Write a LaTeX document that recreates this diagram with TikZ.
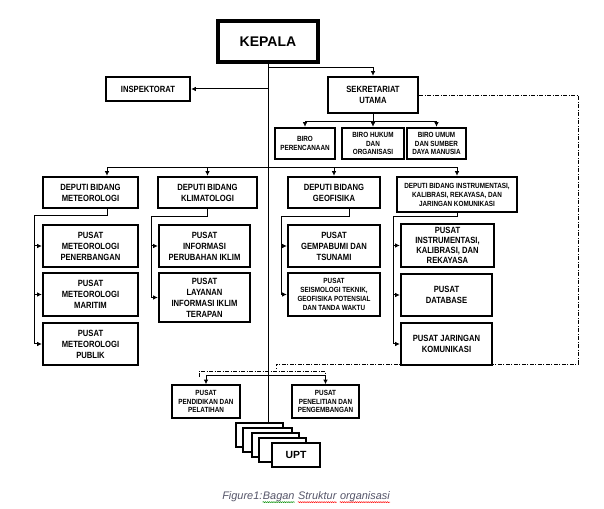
\documentclass[tikz,border=0pt]{standalone}
\usepackage{fontspec}
\usetikzlibrary{arrows.meta,decorations.pathmorphing}
\newfontfamily\nar[FakeStretch=0.85]{Liberation Sans}
\newfontfamily\ars{Liberation Sans}
\definecolor{capgray}{RGB}{85,85,105}
\tikzset{
  box/.style={draw, line width=1.8pt, fill=white, inner sep=0pt, align=center, anchor=center,
    font=\nar\bfseries\fontsize{6.75pt}{8.25pt}\selectfont},
  sbox/.style={box, font=\nar\bfseries\fontsize{5.6pt}{6.6pt}\selectfont},
  tbox/.style={sbox, line width=1.1pt},
  rb/.style n args={4}{minimum width={(#3-#1)*0.75pt}, minimum height={(#4-#2)*0.75pt},
    at={({(#1+#3)/2},{(#2+#4)/2})}},
  conn/.style={line width=0.75pt},
  arr/.style={conn, -{Latex[length=3.5pt,width=3.5pt]}},
  dd/.style={line width=0.6pt, dash pattern=on 3pt off 1.2pt on 0.6pt off 1.2pt},
  captxt/.style={inner sep=0pt, text=capgray, font=\ars\itshape\fontsize{8.2pt}{10pt}\selectfont},
  sq/.style={decorate, decoration={snake, amplitude=0.35pt, segment length=1.6pt}, line width=0.4pt},
}
\begin{document}
\begin{tikzpicture}[x=0.75pt,y=-0.75pt]
\useasboundingbox (0,0) rectangle (604,509);
% top level
\node[box, line width=2.4pt, font=\ars\bfseries\fontsize{10.5pt}{12pt}\selectfont, rb={218}{21}{318}{62}] (kep) {KEPALA};
\node[box, rb={106}{77}{190}{101}] (insp) {INSPEKTORAT};
\node[box, rb={328}{77}{418}{113}] (sek) {SEKRETARIAT\\UTAMA};
% biro
\node[sbox, rb={275}{128}{335}{159}] (b1) {BIRO\\PERENCANAAN};
\node[sbox, rb={342}{128}{404}{159}] (b2) {BIRO HUKUM\\DAN\\ORGANISASI};
\node[sbox, rb={407}{128}{466}{159}] (b3) {BIRO UMUM\\DAN SUMBER\\DAYA MANUSIA};
% deputi
\node[box, rb={43}{177}{138}{208}] (dm) {DEPUTI BIDANG\\METEOROLOGI};
\node[box, rb={158}{177}{257}{208}] (dk) {DEPUTI BIDANG\\KLIMATOLOGI};
\node[box, rb={288}{177}{380}{208}] (dg) {DEPUTI BIDANG\\GEOFISIKA};
\node[sbox, font=\nar\bfseries\fontsize{5.6pt}{6.75pt}\selectfont, rb={397}{177}{517}{212}] (di) {DEPUTI BIDANG INSTRUMENTASI,\\KALIBRASI, REKAYASA, DAN\\JARINGAN KOMUNIKASI};
% pusat meteorologi
\node[box, rb={43}{225}{138}{267}] (pm1) {PUSAT\\METEOROLOGI\\PENERBANGAN};
\node[box, rb={43}{273}{138}{316}] (pm2) {PUSAT\\METEOROLOGI\\MARITIM};
\node[box, rb={43}{323}{138}{365}] (pm3) {PUSAT\\METEOROLOGI\\PUBLIK};
% pusat klimatologi
\node[box, rb={159}{225}{250}{267}] (pk1) {PUSAT\\INFORMASI\\PERUBAHAN IKLIM};
\node[box, rb={159}{273}{250}{322}] (pk2) {PUSAT\\LAYANAN\\INFORMASI IKLIM\\TERAPAN};
% pusat geofisika
\node[box, rb={288}{225}{380}{267}] (pg1) {PUSAT\\GEMPABUMI DAN\\TSUNAMI};
\node[sbox, rb={288}{273}{380}{316}] (pg2) {PUSAT\\SEISMOLOGI TEKNIK,\\GEOFISIKA POTENSIAL\\DAN TANDA WAKTU};
% pusat instrumentasi
\node[box, font=\nar\bfseries\fontsize{6.75pt}{7.6pt}\selectfont, rb={401}{224}{494}{267}] (pi1) {PUSAT\\INSTRUMENTASI,\\KALIBRASI, DAN\\REKAYASA};
\node[box, rb={401}{274}{492}{316}] (pi2) {PUSAT\\DATABASE};
\node[box, rb={401}{323}{492}{365}] (pi3) {PUSAT JARINGAN\\KOMUNIKASI};
% pusat bottom
\node[tbox, rb={172}{385}{240}{418}] (pp1) {PUSAT\\PENDIDIKAN DAN\\PELATIHAN};
\node[tbox, rb={292}{385}{359}{418}] (pp2) {PUSAT\\PENELITIAN DAN\\PENGEMBANGAN};
% UPT stack
\node[tbox, rb={236}{423}{283}{447}] (u1) {};
\node[tbox, rb={243}{428}{292}{452}] (u2) {};
\node[tbox, rb={252}{433}{299}{457}] (u3) {};
\node[tbox, rb={259}{438}{306}{462}] (u4) {};
\node[tbox, font=\ars\bfseries\fontsize{7.8pt}{9pt}\selectfont, rb={272}{443}{320}{467}] (u5) {UPT};

% coordinates
\coordinate (j1) at (268,68);
\coordinate (sb) at (373,122);
\coordinate (dl) at (268,168);
\coordinate (dmx) at (107,0);
\coordinate (dgx) at (349,0);
\coordinate (m0) at (34,216);
\coordinate (k0) at (151,217);
\coordinate (g0) at (281,217);
\coordinate (i0) at (393,217);
\coordinate (pl) at (268,376);
\coordinate (e1) at (578,95);
\coordinate (e2) at (578,364);
\coordinate (e3) at (276,364);
\coordinate (e4) at (276,370);
\coordinate (f1) at (199,377);
\coordinate (f2) at (199,371);
\coordinate (f3) at (325,371);
\coordinate (f4) at (325,377);

% main spine
\draw[conn] (kep.south) -- (kep.south |- u1.north);
\draw[arr] (j1) -| (sek.north);
\draw[arr] (kep.south |- insp.east) -- (insp.east);
% biro
\draw[conn] (sek.south) -- (sb);
\draw[arr] (sb) -| (b1.north);
\draw[arr] (sb) -- (sb |- b2.north);
\draw[arr] (sb) -| (b3.north);
% deputi
\draw[arr] (dl) -| (dm.north -| dmx);
\draw[arr] (dl) -| (dk.north);
\draw[arr] (dl) -| (dg.north);
\draw[arr] (dl) -| (di.north);
% meteorologi
\draw[conn] (dm.south -| dmx) |- (m0) -- (m0 |- pm3.west);
\foreach \n in {pm1,pm2,pm3} \draw[arr] (m0 |- \n.west) -- (\n.west);
% klimatologi
\draw[conn] (dk.south) |- (k0) -- (k0 |- pk2.west);
\foreach \n in {pk1,pk2} \draw[arr] (k0 |- \n.west) -- (\n.west);
% geofisika
\draw[conn] (dg.south -| dgx) |- (g0) -- (g0 |- pg2.west);
\foreach \n in {pg1,pg2} \draw[arr] (g0 |- \n.west) -- (\n.west);
% instrumentasi
\draw[conn] (di.south) |- (i0) -- (i0 |- pi3.west);
\foreach \n in {pi1,pi2,pi3} \draw[arr] (i0 |- \n.west) -- (\n.west);
% bottom pusat
\draw[arr] (pl) -| (pp1.north);
\draw[arr] (pl) -| (pp2.north);
% coordination dash-dot
\draw[dd] (sek.east) -- (e1) -- (e2) -- (e3) -- (e4);
\draw[dd] (f1) -- (f2) -- (f3) -- (f4);

% caption
\node[captxt, anchor=base west] (c1) at (222,500) {Figure1:};
\node[captxt, anchor=base west] (c2) at (c1.base east) {Bagan};
\node[captxt, anchor=base west, xshift=2.3pt] (c3) at (c2.base east) {Struktur};
\node[captxt, anchor=base west, xshift=2.3pt] (c4) at (c3.base east) {organisasi};
\draw[sq, green!55!black] ([yshift=-1.6pt]c2.base west) -- ([yshift=-1.6pt]c2.base east);
\draw[sq, red] ([yshift=-1.6pt]c3.base west) -- ([yshift=-1.6pt]c3.base east);
\draw[sq, red] ([yshift=-1.6pt]c4.base west) -- ([yshift=-1.6pt]c4.base east);
\end{tikzpicture}
\end{document}
